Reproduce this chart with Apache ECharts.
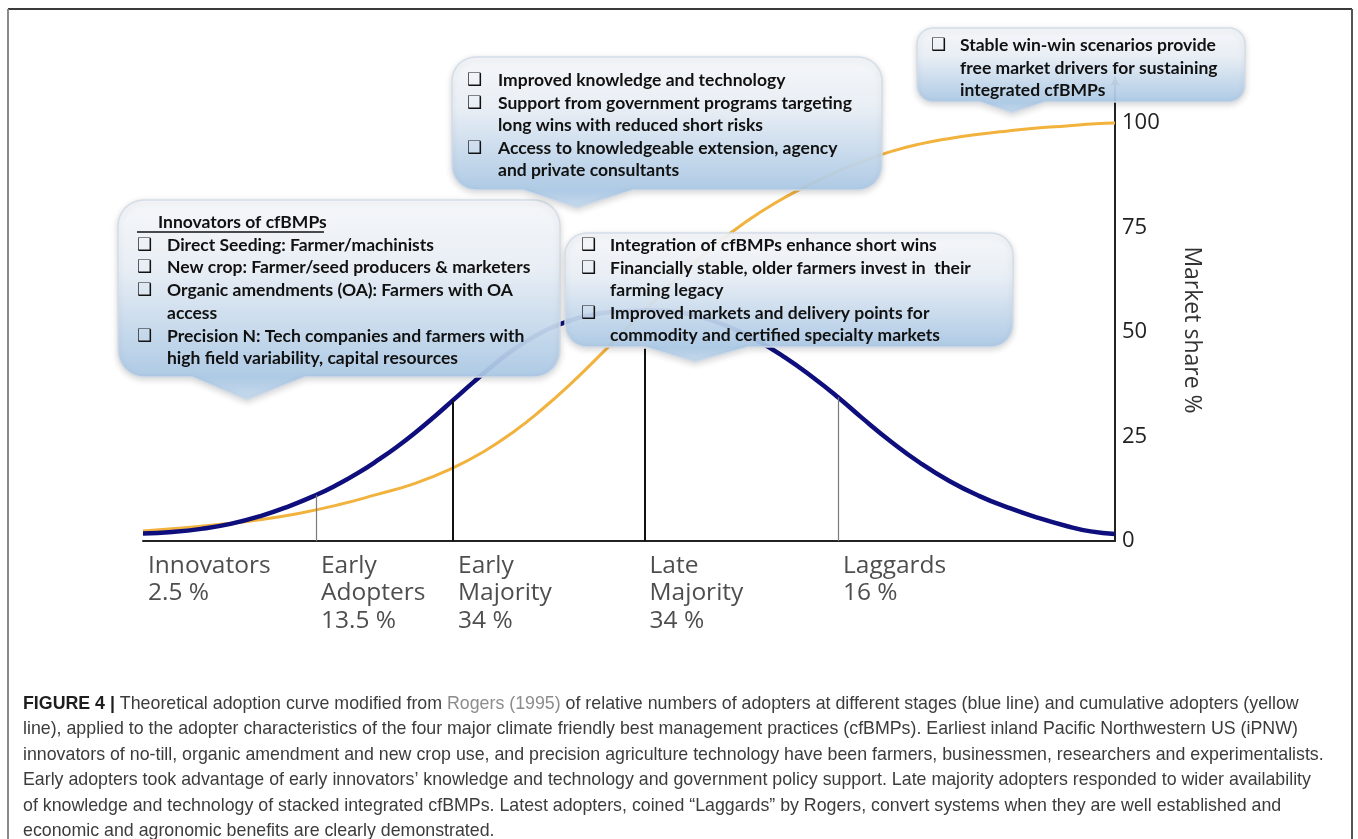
<!DOCTYPE html>
<html><head><meta charset="utf-8">
<script src="https://cdn.jsdelivr.net/npm/echarts@6/dist/echarts.min.js"></script>
<style>html,body{margin:0;padding:0;background:#fff}#c{width:1358px;height:839px}</style>
</head><body><div id="c"></div>
<script>
// ---------- data ----------
const adopterCurve = [
  [0, 1.8], [3, 2.15], [6, 2.9], [9, 4.1], [12, 5.9], [15, 8.3], [17.8, 11.0], [20, 13.5],
  [22, 16.1], [24.4, 19.7], [26, 22.3], [28, 25.9], [30, 29.8], [31.9, 33.7], [34, 38.0],
  [36, 42.0], [38, 45.6], [40, 48.6], [42, 51.0], [44, 52.8], [46, 54.0], [48, 54.7],
  [50, 55.0], [51.6, 55.2], [54, 55.0], [57, 53.8], [60, 51.5], [63, 48.2], [66, 44.0],
  [69, 39.0], [71.5, 34.4], [74, 29.4], [77, 23.7], [80, 18.6], [83, 14.3], [86, 10.8],
  [89, 8.0], [92, 5.6], [95, 3.6], [97.5, 2.3], [100, 1.7]
];
const cumulativeCurve = [
  [0, 2.4], [4, 3.1], [8, 4.0], [12, 5.1], [16, 6.6], [20, 8.6], [24, 11.1], [28, 13.8],
  [31.9, 17.5], [35, 21.3], [38, 25.9], [41, 31.4], [44, 37.6], [47, 44.4], [50, 51.4],
  [53, 58.4], [56, 65.0], [59, 71.0], [62, 76.3], [65, 80.8], [68, 84.6], [71, 87.9],
  [74, 90.8], [77, 93.2], [80, 95.0], [83, 96.3], [86, 97.3], [89, 98.1], [92, 98.8],
  [95, 99.3], [98, 99.8], [100, 100]
];
const stageNames = ['Innovators', 'Early\nAdopters', 'Early\nMajority', 'Late\nMajority', 'Laggards'];
const stageShares = ['2.5 %', '13.5 %', '34 %', '34 %', '16 %'];
const stageStarts = [0, 17.8, 31.9, 51.6, 71.5];
const dividerX = [17.8, 31.9, 51.6, 71.5];
const dividerTop = [11, 33.7, 46, 34.4];
const yTicks = [0, 25, 50, 75, 100];
const yAxisName = 'Market share %';

const innovatorsTitle = 'Innovators of cfBMPs';
const innovatorsNotes = [
  ['❑', 'Direct Seeding: Farmer/machinists'],
  ['❑', 'New crop: Farmer/seed producers & marketers'],
  ['❑', 'Organic amendments (OA): Farmers with OA'],
  ['', 'access'],
  ['❑', 'Precision N: Tech companies and farmers with'],
  ['', 'high field variability, capital resources']
];
const earlyMajorityNotes = [
  ['❑', 'Improved knowledge and technology'],
  ['❑', 'Support from government programs targeting'],
  ['', 'long wins with reduced short risks'],
  ['❑', 'Access to knowledgeable extension, agency'],
  ['', 'and private consultants']
];
const lateMajorityNotes = [
  ['❑', 'Integration of cfBMPs enhance short wins'],
  ['❑', 'Financially stable, older farmers invest in  their'],
  ['', 'farming legacy'],
  ['❑', 'Improved markets and delivery points for'],
  ['', 'commodity and certified specialty markets']
];
const laggardsNotes = [
  ['❑', 'Stable win-win scenarios provide'],
  ['', 'free market drivers for sustaining'],
  ['', 'integrated cfBMPs']
];
const captionLines = [
  '{b|FIGURE 4 |} Theoretical adoption curve modified from {g|Rogers (1995)} of relative numbers of adopters at different stages (blue line) and cumulative adopters (yellow',
  'line), applied to the adopter characteristics of the four major climate friendly best management practices (cfBMPs). Earliest inland Pacific Northwestern US (iPNW)',
  'innovators of no-till, organic amendment and new crop use, and precision agriculture technology have been farmers, businessmen, researchers and experimentalists.',
  'Early adopters took advantage of early innovators\u2019 knowledge and technology and government policy support. Late majority adopters responded to wider availability',
  'of knowledge and technology of stacked integrated cfBMPs. Latest adopters, coined \u201cLaggards\u201d by Rogers, convert systems when they are well established and',
  'economic and agronomic benefits are clearly demonstrated.'
];

// ---------- layout helpers ----------
function calloutPoints(b) {
  const pts = [];
  function arc(cx, cy, a0, a1) {
    for (let i = 0; i <= 8; i++) {
      const a = (a0 + (a1 - a0) * i / 8) * Math.PI / 180;
      pts.push([cx + b.r * Math.cos(a), cy + b.r * Math.sin(a)]);
    }
  }
  arc(b.x + b.r, b.y + b.r, 180, 270);
  arc(b.x + b.w - b.r, b.y + b.r, 270, 360);
  arc(b.x + b.w - b.r, b.y + b.h - b.r, 0, 90);
  pts.push([b.p2, b.y + b.h], [b.tx, b.ty], [b.p1, b.y + b.h]);
  arc(b.x + b.r, b.y + b.h - b.r, 90, 180);
  return pts;
}
function calloutShape(b) {
  const hf = b.h / (b.ty - b.y);
  return {
    type: 'polygon', z: 100,
    shape: { points: calloutPoints(b) },
    style: {
      fill: new echarts.graphic.LinearGradient(0, 0, 0, 1, [
        { offset: 0, color: '#f7f9fc' },
        { offset: hf * 0.38, color: '#eaf0f7' },
        { offset: hf, color: '#abc9e6' },
        { offset: 1, color: '#c8dcef' }
      ]),
      stroke: '#d3dce6', lineWidth: 1.5, opacity: 0.93,
      shadowBlur: 6, shadowOffsetY: 2, shadowColor: 'rgba(0,0,0,0.16)'
    }
  };
}
const noteFont = 'bold 17.5px Lato';
function noteTexts(notes, bx, tx, rows) {
  const els = [];
  notes.forEach((n, i) => {
    if (n[0]) els.push({ type: 'text', z: 101, x: bx - 1, y: rows[i] + 1,
      style: { text: n[0], font: 'bold 17px "DejaVu Sans"', fill: '#111', textVerticalAlign: 'middle', verticalAlign: 'middle' } });
    els.push({ type: 'text', z: 101, x: tx, y: rows[i],
      style: { text: n[1], font: noteFont, fill: '#111', textVerticalAlign: 'middle', verticalAlign: 'middle' } });
  });
  return els;
}

const box1 = { x: 118, y: 200, w: 442, h: 177, r: 26, p1: 192, p2: 305, tx: 247, ty: 400 };
const box2 = { x: 452, y: 57, w: 430, h: 133, r: 24, p1: 523, p2: 633, tx: 577, ty: 208 };
const box3 = { x: 565, y: 233, w: 448, h: 114, r: 22, p1: 645, p2: 748, tx: 695, ty: 362 };
const box4 = { x: 917, y: 28, w: 328, h: 74, r: 16, p1: 980, p2: 1045, tx: 1012, ty: 113 };

const graphics = [
  // frame
  { type: 'line', z: 1, shape: { x1: 8, y1: 9, x2: 1352, y2: 9 }, style: { stroke: '#3a3a3a', lineWidth: 2 } },
  { type: 'line', z: 1, shape: { x1: 8, y1: 9, x2: 8, y2: 839 }, style: { stroke: '#8a8a8a', lineWidth: 2 } },
  { type: 'line', z: 1, shape: { x1: 1352, y1: 9, x2: 1352, y2: 839 }, style: { stroke: '#555', lineWidth: 2 } },
  // y axis title
  { type: 'text', z: 5, x: 1192, y: 330, rotation: -Math.PI / 2,
    style: { text: yAxisName, font: '23px "Open Sans"', fill: '#333', textAlign: 'center', align: 'center', textVerticalAlign: 'middle', verticalAlign: 'middle' } },
  calloutShape(box1), calloutShape(box2), calloutShape(box3), calloutShape(box4),
  { type: 'text', z: 101, x: 158, y: 222,
    style: { text: innovatorsTitle, font: noteFont, fill: '#111', textVerticalAlign: 'middle', verticalAlign: 'middle' } },
  { type: 'line', z: 101, shape: { x1: 137, y1: 232, x2: 324, y2: 232 }, style: { stroke: '#111', lineWidth: 1.3 } }
]
.concat(noteTexts(innovatorsNotes, 138, 167, [245, 267, 290, 313, 336, 358]))
.concat(noteTexts(earlyMajorityNotes, 468, 498, [80, 103, 125, 148, 170]))
.concat(noteTexts(lateMajorityNotes, 582, 610, [245, 268, 290, 313, 335]))
.concat(noteTexts(laggardsNotes, 932, 960, [45, 68, 90]));

const capFont = '17.8px "Liberation Sans"';
captionLines.forEach((t, i) => {
  graphics.push({ type: 'text', z: 5, x: 23, y: 704 + i * 25.5,
    style: { text: t, font: capFont, fill: '#3c3c3c', textVerticalAlign: 'middle', verticalAlign: 'middle',
      rich: {
        b: { font: 'bold 17.8px "Liberation Sans"', fontWeight: 'bold', fontSize: 17.8, fontFamily: 'Liberation Sans', fill: '#1e1e1e', color: '#1e1e1e' },
        g: { font: capFont, fontSize: 17.8, fontFamily: 'Liberation Sans', fill: '#8c8c8c', color: '#8c8c8c' }
      } } });
});

const chart = echarts.init(document.getElementById('c'), null, { renderer: 'canvas' });
chart.setOption({
  animation: false,
  backgroundColor: '#fff',
  grid: { left: 143, right: 243, top: 77, bottom: 298, containLabel: false },
  xAxis: {
    type: 'value', min: 0, max: 100,
    axisLine: { show: true, onZero: false, lineStyle: { color: '#222', width: 2 } },
    axisTick: { show: false }, axisLabel: { show: false }, splitLine: { show: false }
  },
  yAxis: {
    type: 'value', position: 'right', min: 0, max: 111, interval: 25,
    axisLine: { show: true, onZero: false, symbol: ['none', 'arrow'], symbolSize: [7, 9], lineStyle: { color: '#222', width: 2 } },
    axisTick: { show: false }, splitLine: { show: false },
    axisLabel: { margin: 7, fontSize: 22, fontFamily: 'Open Sans', color: '#222',
      formatter: v => (yTicks.indexOf(v) >= 0 ? String(v) : '') }
  },
  series: [
    { type: 'line', data: cumulativeCurve, smooth: true, showSymbol: false, z: 3,
      lineStyle: { color: '#f2b23e', width: 3 } },
    { type: 'line', data: adopterCurve, smooth: true, showSymbol: false, z: 4,
      lineStyle: { color: '#0e0e7c', width: 4.5 } },
    { type: 'line', data: [], z: 2,
      markLine: {
        silent: true, symbol: 'none', label: { show: false },
        data: dividerX.map((x, i) => [
          { coord: [x, 0], lineStyle: { color: (i === 0 || i === 3) ? '#7a7a7a' : '#111', width: (i === 0 || i === 3) ? 1.2 : 2, type: 'solid' } },
          { coord: [x, dividerTop[i]] }
        ])
      } },
    { type: 'scatter', data: stageStarts.map(x => [x, 0]), symbolSize: 0.01, z: 5,
      itemStyle: { color: 'rgba(0,0,0,0)' },
      label: { show: true, position: [5, 11], align: 'left', verticalAlign: 'top',
        fontSize: 24.5, fontFamily: 'Open Sans', color: '#222', lineHeight: 27.5,
        formatter: p => stageNames[p.dataIndex] + '\n' + stageShares[p.dataIndex] } }
  ],
  graphic: { elements: graphics }
});
</script></body></html>
